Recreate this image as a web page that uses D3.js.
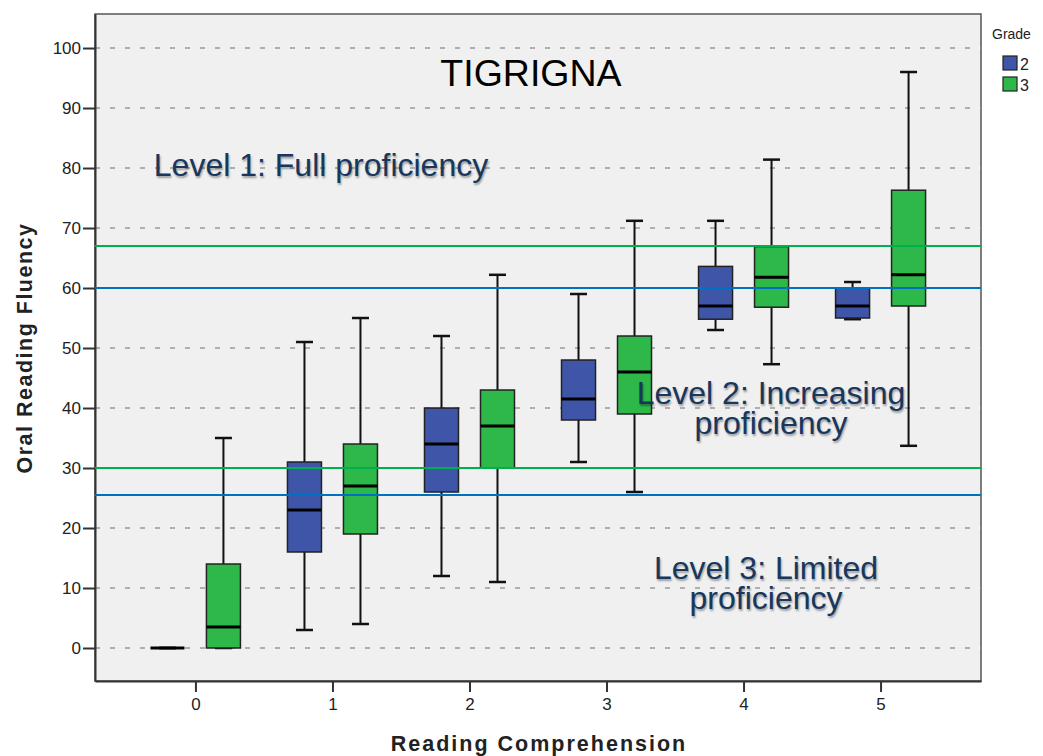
<!DOCTYPE html>
<html>
<head>
<meta charset="utf-8">
<title>TIGRIGNA</title>
<script src="https://cdnjs.cloudflare.com/ajax/libs/d3/7.8.5/d3.min.js"></script>
<style>
    body { margin: 0; background: #fff; }
    text { font-family: "Liberation Sans", Arial, sans-serif; }
</style>
</head>
<body>
<div id="chart"></div>
<script>
    // reading comprehension score categories
    var categories = ["0", "1", "2", "3", "4", "5"];
    var grades = ["2", "3"];

    // box stats per category: [low whisker, q1, median, q3, high whisker]
    var grade2Stats = [
        [0, 0, 0, 0, 0],
        [3, 16, 23, 31, 51],
        [12, 26, 34, 40, 52],
        [31, 38, 41.5, 48, 59],
        [53, 54.8, 57, 63.6, 71.2],
        [54.8, 55, 57, 60, 61]
    ];
    var grade3Stats = [
        [0, 0, 3.5, 14, 35],
        [4, 19, 27, 34, 55],
        [11, 30, 37, 43, 62.2],
        [26, 39, 46, 52, 71.2],
        [47.3, 56.8, 61.8, 66.9, 81.4],
        [33.7, 57, 62.2, 76.3, 96]
    ];

    // proficiency cut lines
    var greenCuts = [67, 30];
    var blueCuts = [60, 25.5];

    var yTicks = [0, 10, 20, 30, 40, 50, 60, 70, 80, 90, 100];

    var width = 1043,
        height = 756,
        plotL = 95, plotR = 981, plotT = 14, plotB = 681;

    var colors = {"2": "#3f56a8", "3": "#2fb84a"};

    var svg = d3.select("#chart").append("svg")
        .attr("width", width)
        .attr("height", height);

    var x = d3.scalePoint()
        .domain(categories)
        .range([plotL, plotR])
        .padding(0.733);

    var y = d3.scaleLinear()
        .domain([-5.5, 105.67])
        .range([plotB, plotT]);

    var offset = d3.scalePoint()
        .domain(grades)
        .range([-28, 28]);

    var boxW = 34, capW = 17;

    // plot background
    svg.append("rect")
        .attr("x", plotL).attr("y", plotT)
        .attr("width", plotR - plotL).attr("height", plotB - plotT)
        .attr("fill", "#f0f0f0")
        .attr("stroke", "#555")
        .attr("stroke-width", 1.5);

    // grid
    svg.append("g").selectAll("line")
        .data(yTicks)
        .enter().append("line")
        .attr("x1", plotL).attr("x2", plotR)
        .attr("y1", function(d) { return y(d); })
        .attr("y2", function(d) { return y(d); })
        .attr("stroke", "#999")
        .attr("stroke-width", 1.5)
        .attr("stroke-dasharray", "5,10");

    // axes
    var yAxis = svg.append("g")
        .attr("transform", "translate(" + plotL + ",0)")
        .call(d3.axisLeft(y).tickValues(yTicks).tickSize(12).tickSizeOuter(0).tickPadding(2));
    var xAxis = svg.append("g")
        .attr("transform", "translate(0," + plotB + ")")
        .call(d3.axisBottom(x).tickSize(11).tickSizeOuter(0).tickPadding(6));

    [yAxis, xAxis].forEach(function(a) {
        a.attr("font-size", null).attr("font-family", null);
        a.select(".domain").attr("stroke", "#333").attr("stroke-width", 2);
        a.selectAll(".tick line").attr("stroke", "#333").attr("stroke-width", 2);
        a.selectAll(".tick text")
            .style("font-size", "17px")
            .attr("fill", "#222");
    });

    // reference lines
    function cutLines(vals, col) {
        svg.append("g").selectAll("line")
            .data(vals)
            .enter().append("line")
            .attr("x1", plotL).attr("x2", plotR)
            .attr("y1", function(d) { return y(d); })
            .attr("y2", function(d) { return y(d); })
            .attr("stroke", col)
            .attr("stroke-width", 2.2);
    }

    // boxes
    function drawBoxes(stats, grade) {
        var g = svg.append("g");
        stats.forEach(function(s, i) {
            var cx = x(categories[i]) + offset(grade);
            // whiskers
            g.append("line")
                .attr("x1", cx).attr("x2", cx)
                .attr("y1", y(s[0])).attr("y2", y(s[1]))
                .attr("stroke", "#111").attr("stroke-width", 2);
            g.append("line")
                .attr("x1", cx).attr("x2", cx)
                .attr("y1", y(s[3])).attr("y2", y(s[4]))
                .attr("stroke", "#111").attr("stroke-width", 2);
            [s[0], s[4]].forEach(function(v) {
                g.append("line")
                    .attr("x1", cx - capW / 2).attr("x2", cx + capW / 2)
                    .attr("y1", y(v)).attr("y2", y(v))
                    .attr("stroke", "#111").attr("stroke-width", 2.5);
            });
            if (s[3] > s[1]) {
                g.append("rect")
                    .attr("x", cx - boxW / 2).attr("y", y(s[3]))
                    .attr("width", boxW).attr("height", y(s[1]) - y(s[3]))
                    .attr("fill", colors[grade])
                    .attr("stroke", "#222").attr("stroke-width", 1.5);
            }
            g.append("line")
                .attr("x1", cx - boxW / 2).attr("x2", cx + boxW / 2)
                .attr("y1", y(s[2])).attr("y2", y(s[2]))
                .attr("stroke", "#000").attr("stroke-width", 3);
        });
    }

    drawBoxes(grade2Stats, "2");
    drawBoxes(grade3Stats, "3");
    cutLines(greenCuts, "#00b050");
    cutLines(blueCuts, "#0070c0");

    // titles and level notes
    svg.append("text")
        .attr("x", 531).attr("y", 86)
        .attr("text-anchor", "middle")
        .attr("font-size", 37.5)
        .attr("fill", "#000")
        .text("TIGRIGNA");

    var notes = [
        {lines: ["Level 1: Full proficiency"], x: 321, y: 176},
        {lines: ["Level 2: Increasing", "proficiency"], x: 771, y: 404},
        {lines: ["Level 3: Limited", "proficiency"], x: 766, y: 579}
    ];
    notes.forEach(function(n) {
        var t = svg.append("text")
            .attr("x", n.x).attr("y", n.y)
            .attr("text-anchor", "middle")
            .attr("font-size", 32)
            .attr("fill", "#17375e")
            .style("text-shadow", "1px 2px 2px rgba(0,0,0,0.35)");
        n.lines.forEach(function(l, i) {
            t.append("tspan")
                .attr("x", n.x)
                .attr("dy", i ? 29.5 : 0)
                .text(l);
        });
    });

    // axis titles
    svg.append("text")
        .attr("transform", "translate(32," + 348 + ") rotate(-90)")
        .attr("text-anchor", "middle")
        .attr("font-size", 21.5)
        .attr("font-weight", "bold")
        .attr("letter-spacing", 1.5)
        .attr("fill", "#222")
        .text("Oral Reading Fluency");

    svg.append("text")
        .attr("x", 539).attr("y", 751)
        .attr("text-anchor", "middle")
        .attr("font-size", 21.5)
        .attr("font-weight", "bold")
        .attr("letter-spacing", 2)
        .attr("fill", "#222")
        .text("Reading Comprehension");

    // legend
    var legend = svg.append("g");
    legend.append("text")
        .attr("x", 992).attr("y", 39)
        .attr("font-size", 14)
        .attr("fill", "#222")
        .text("Grade");
    grades.forEach(function(gr, i) {
        legend.append("rect")
            .attr("x", 1003).attr("y", 56 + i * 21)
            .attr("width", 14).attr("height", 14)
            .attr("fill", colors[gr])
            .attr("stroke", "#222").attr("stroke-width", 1.2);
        legend.append("text")
            .attr("x", 1020).attr("y", 70 + i * 21)
            .attr("font-size", 16)
            .attr("fill", "#222")
            .text(gr);
    });
</script>
</body>
</html>
